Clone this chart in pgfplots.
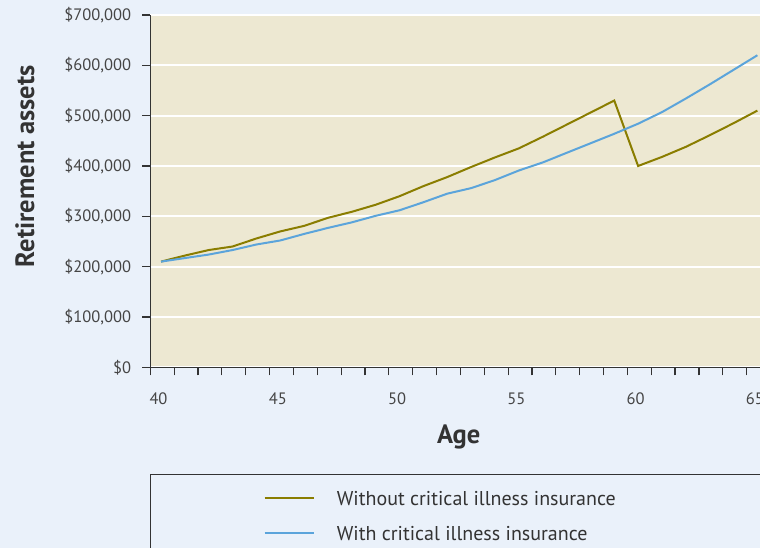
\documentclass[border=0pt]{standalone}
\usepackage{pgfplots}
\pgfplotsset{compat=1.18}
\usepackage{fontspec}
\setmainfont{PT Sans}

\definecolor{outerbg}{HTML}{EAF1FA}
\definecolor{plotbg}{HTML}{EDE8D2}
\definecolor{olive}{HTML}{8A7D00}
\definecolor{skyblue}{HTML}{5BA4DB}
\definecolor{axisgray}{HTML}{333333}
\definecolor{ticktext}{HTML}{454545}

% ages are drawn a little right of the tick, as in the original
\pgfplotstableread{
age   without  with
40.45 210000 210000
41.45 222000 217000
42.45 233000 224000
43.45 240000 233000
44.45 256000 244000
45.45 270000 252000
46.45 281000 265000
47.45 297000 277000
48.45 309000 288000
49.45 323000 301000
50.45 340000 312000
51.45 360000 328000
52.45 378000 345000
53.45 398000 356000
54.45 417000 372000
55.45 435000 391000
56.45 458000 407000
57.45 482000 426000
58.45 506000 445000
59.45 530000 464000
60.45 400000 484000
61.45 418000 507000
62.45 438000 534000
63.45 461000 562000
64.45 485000 591000
65.45 510000 620000
}\assets

\begin{document}
\begin{tikzpicture}[x=1pt,y=1pt]
\fill[outerbg] (0,0) rectangle (760,548);
\begin{axis}[
  at={(150.3pt,180.7pt)}, anchor=south west,
  scale only axis, width=609.7pt, height=352.3pt,
  xmin=40, xmax=65.56, ymin=0, ymax=700000,
  axis x line*=bottom, axis y line*=left,
  axis line style={draw=axisgray, line width=1.5pt},
  axis background/.style={fill=plotbg},
  ymajorgrids, major grid style={white, line width=2pt},
  tick align=outside,
  major tick length=8pt, minor tick length=8pt,
  every tick/.style={draw=axisgray, line width=1.2pt},
  xtick={40,45,...,65}, minor x tick num=4,
  ytick={0,100000,...,700000},
  scaled y ticks=false,
  yticklabels={{\$0},{\$100,000},{\$200,000},{\$300,000},{\$400,000},{\$500,000},{\$600,000},{\$700,000}},
  /pgf/number format/assume math mode=true,
  ticklabel style={font=\fontsize{16.5}{19}\selectfont, color=ticktext},
  xticklabel style={anchor=north west, inner sep=0pt, xshift=-1pt, yshift=-17pt},
  yticklabel style={anchor=east, inner sep=0pt, xshift=-11pt},
  xlabel={Age}, ylabel={Retirement assets},
  every axis x label/.style={at={(rel axis cs:0.506,0)}, yshift=-69.7pt, anchor=center,
    font=\fontsize{26.5}{30}\selectfont\bfseries, text=axisgray},
  every axis y label/.style={at={(rel axis cs:0,0.571)}, xshift=-125.3pt, rotate=90, anchor=center,
    font=\fontsize{26.5}{30}\selectfont\bfseries, text=axisgray},
  legend style={at={(rel axis cs:0,0)}, anchor=north west, xshift=113pt, yshift=-122.7pt,
    draw=none, fill=none, inner sep=0pt, row sep=17pt, column sep=22pt,
    nodes={inner sep=0pt, anchor=base west, text height=15pt, text depth=3pt,
      font=\fontsize{20}{24}\selectfont, text=axisgray}},
  legend cell align=left,
  legend image code/.code={\draw[#1] (0pt,7.3pt) -- (49.4pt,7.3pt);},
]
\addplot[olive, line width=2pt] table[x=age, y=without] {\assets};
\addlegendentry{Without critical illness insurance}
\addplot[skyblue, line width=2pt] table[x=age, y=with] {\assets};
\addlegendentry{With critical illness insurance}
\end{axis}
% legend frame, cut off by the edge of the picture as in the original
\draw[axisgray, line width=1.3pt] (150.7,-10) -- (150.7,73.7) -- (800,73.7);
\pgfresetboundingbox
\path[use as bounding box] (0,0) rectangle (760,548);
\end{tikzpicture}
\end{document}
